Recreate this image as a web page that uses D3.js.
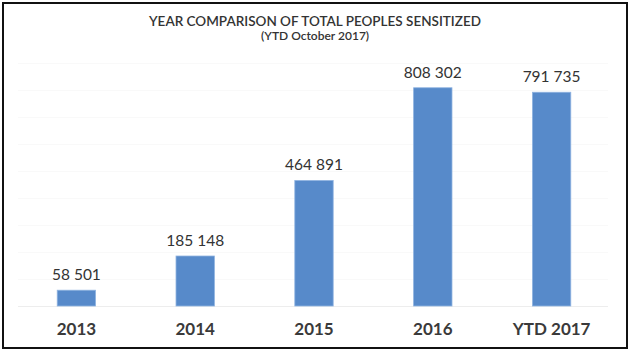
<!DOCTYPE html>
<html>
<head>
<meta charset="utf-8">
<script src="https://cdn.jsdelivr.net/npm/d3@7"></script>
<style>
  body { margin: 0; background: #fff; }
  #chart { width: 630px; height: 351px; }
</style>
</head>
<body>
<div id="chart"></div>
<script>
const categories = ['2013', '2014', '2015', '2016', 'YTD 2017'];
const sensitized = [58501, 185148, 464891, 808302, 791735];
const valueLabels = ['58 501', '185 148', '464 891', '808 302', '791 735'];
const gridTicks = [0, 100000, 200000, 300000, 400000, 500000, 600000, 700000, 800000, 900000];
const titleLines = ['YEAR COMPARISON OF TOTAL PEOPLES SENSITIZED', '(YTD October 2017)'];

const width = 630;
const height = 351;
const fontFamily = 'Lato, "Open Sans", sans-serif';

const svg = d3
  .select('#chart')
  .append('svg')
  .attr('width', width)
  .attr('height', height);

svg
  .append('rect')
  .attr('x', 3)
  .attr('y', 3)
  .attr('width', width - 6)
  .attr('height', height - 6)
  .attr('fill', '#fff')
  .attr('stroke', '#111')
  .attr('stroke-width', 2);

const x = d3.scaleBand().domain(categories).range([17, 611]).paddingInner(0.677).paddingOuter(0.3385);
const y = d3.scaleLinear().domain([0, 900000]).range([306, 63]);

// faint gridlines
svg
  .append('g')
  .selectAll('line')
  .data(gridTicks)
  .join('line')
  .attr('x1', 18)
  .attr('x2', 608)
  .attr('y1', (d) => Math.round(y(d)) + 0.5)
  .attr('y2', (d) => Math.round(y(d)) + 0.5)
  .attr('stroke', (d) => (d === 0 ? '#ededed' : '#f9f9f9'))
  .attr('stroke-width', 1);

svg
  .append('g')
  .selectAll('rect')
  .data(sensitized)
  .join('rect')
  .attr('x', (d, i) => x(categories[i]))
  .attr('y', (d) => y(d))
  .attr('width', x.bandwidth())
  .attr('height', (d) => y(0) - y(d))
  .attr('fill', '#578ACA')
  .attr('stroke', '#8fb3e0')
  .attr('stroke-width', 0.8);

// value labels
svg
  .append('g')
  .selectAll('text')
  .data(sensitized)
  .join('text')
  .attr('x', (d, i) => x(categories[i]) + x.bandwidth() / 2)
  .attr('y', (d) => y(d) - 10)
  .attr('text-anchor', 'middle')
  .attr('font-family', fontFamily)
  .attr('font-size', '15.5px')
  .attr('fill', '#333')
  .text((d, i) => valueLabels[i]);

// category axis
const xAxis = svg
  .append('g')
  .attr('transform', 'translate(0,306)')
  .call(d3.axisBottom(x).tickSize(0).tickPadding(0));
xAxis.select('.domain').remove();
xAxis
  .selectAll('text')
  .attr('dy', null)
  .attr('y', 29)
  .attr('font-family', fontFamily)
  .attr('font-size', '17px')
  .attr('font-weight', 700)
  .attr('fill', '#3a3a3a');

// title
svg
  .append('g')
  .selectAll('text')
  .data(titleLines)
  .join('text')
  .attr('x', 315)
  .attr('y', (d, i) => 26 + i * 13.5)
  .attr('text-anchor', 'middle')
  .attr('font-family', fontFamily)
  .attr('font-size', (d, i) => (i === 0 ? '13.5px' : '12px'))
  .attr('font-weight', 600)
  .attr('fill', '#333')
  .text((d) => d);
</script>
</body>
</html>
